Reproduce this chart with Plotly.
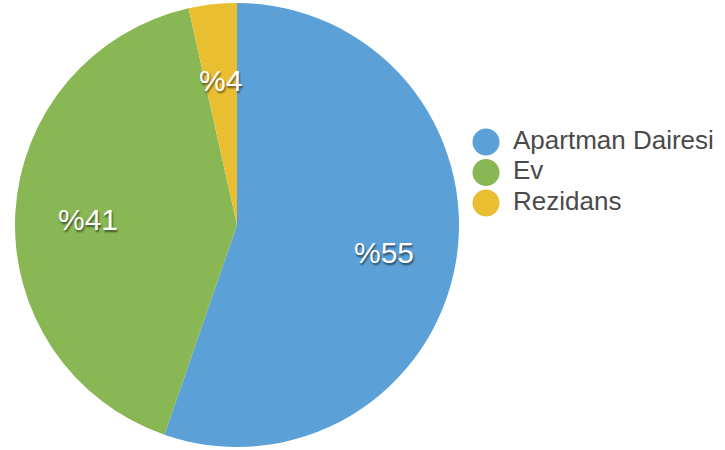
import math
import plotly.graph_objects as go

labels = ["Apartman Dairesi", "Ev", "Rezidans"]
values = [55.3, 41.2, 3.5]
colors = ["#5BA1D7", "#89B753", "#E9BE31"]
total = sum(values)
pct_text = ["%" + str(int(v / total * 100 + 0.5)) for v in values]

W, H = 725, 450
cx, cy, R = 237, 225, 222
dom = dict(x=[(cx - R) / W, (cx + R) / W], y=[1 - (cy + R) / H, 1 - (cy - R) / H])
LABEL_R = 0.67
LEG_Y0, LEG_STEP = 142, 30.5

fig = go.Figure()
fig.add_trace(go.Pie(
    labels=labels, values=values, sort=False, direction="clockwise", rotation=0,
    marker=dict(colors=colors, line=dict(color="white", width=0)),
    textinfo="none", showlegend=False, hoverinfo="label+percent",
    domain=dom,
))

# percent labels at each slice's mid-angle (clockwise from 12 o'clock)
acc = 0
for v, t in zip(values, pct_text):
    mid = math.radians((acc + v / 2) / total * 360)
    acc += v
    px = cx + LABEL_R * R * math.sin(mid)
    py = cy - LABEL_R * R * math.cos(mid)
    fig.add_annotation(
        x=px / W, y=1 - py / H, xref="paper", yref="paper", text=t,
        xanchor="center", yanchor="middle",
        showarrow=False, yshift=-3,
        font=dict(family="Liberation Sans", size=30, color="white",
                  shadow="1px 2px 2px rgba(0,0,0,0.55)"),
    )

# legend drawn as scatter with large circle markers
fig.add_trace(go.Scatter(
    x=[0] * len(labels), y=list(range(len(labels))),
    mode="markers", marker=dict(color=colors, size=27),
    showlegend=False, hoverinfo="skip", cliponaxis=False,
))
fig.add_trace(go.Scatter(
    x=[27] * len(labels), y=list(range(len(labels))),
    mode="text", text=labels, textposition="middle right",
    textfont=dict(family="Liberation Sans", size=26, color="#4a4a4a"),
    showlegend=False, hoverinfo="skip", cliponaxis=False,
))

fig.update_layout(
    width=W, height=H, margin=dict(l=0, r=0, t=0, b=0),
    paper_bgcolor="white", plot_bgcolor="rgba(0,0,0,0)",
    xaxis=dict(range=[-486, W - 486], visible=False, fixedrange=True),
    yaxis=dict(range=[(H - LEG_Y0) / LEG_STEP, -LEG_Y0 / LEG_STEP], visible=False, fixedrange=True),
)
fig.write_html("out.html", config={"displayModeBar": False},
               post_script="document.body.style.margin='0';")
